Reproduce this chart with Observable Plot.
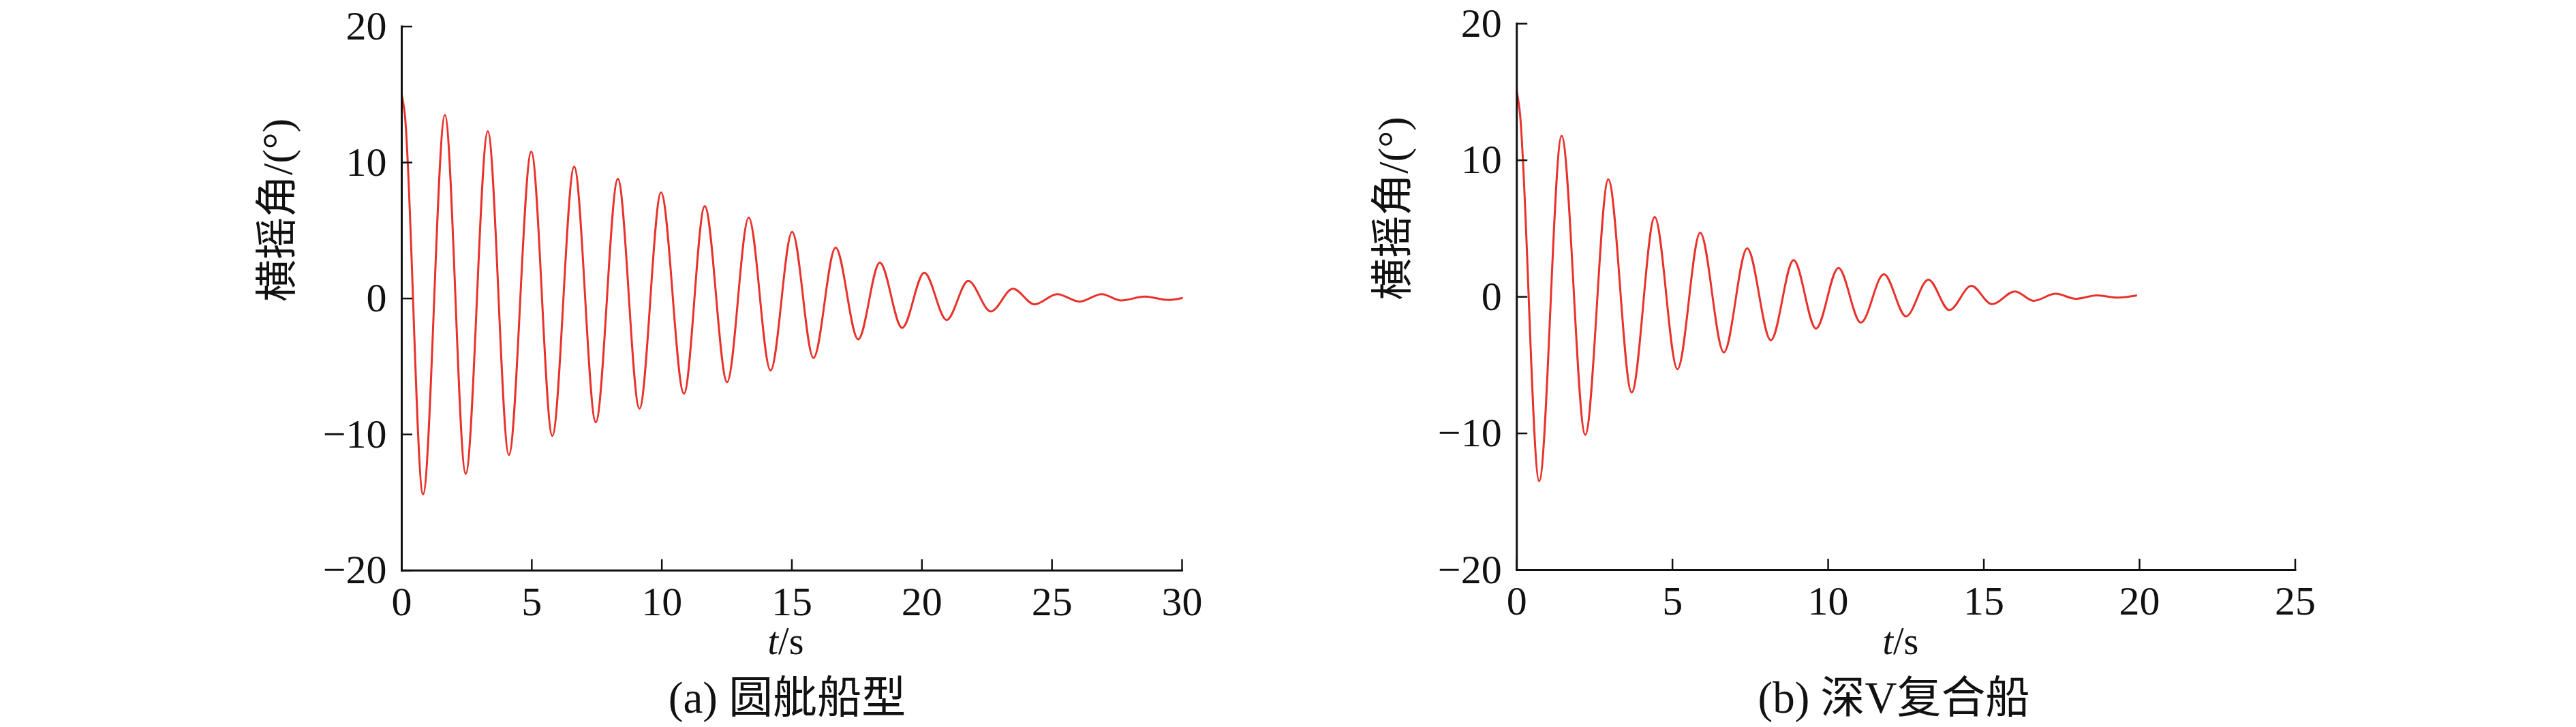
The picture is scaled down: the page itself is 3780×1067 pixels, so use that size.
<!DOCTYPE html>
<html><head><meta charset="utf-8">
<script src="https://cdn.jsdelivr.net/npm/d3@7"></script>
<script src="https://cdn.jsdelivr.net/npm/@observablehq/plot@0.6"></script>
<style>
html,body{margin:0;padding:0;background:#fff;}
#fig{position:relative;width:3780px;height:1067px;background:#fff;overflow:hidden;}
.panel{position:absolute;top:0;width:1890px;height:1067px;}
.panel svg{display:block;}
.cap{position:absolute;top:992px;white-space:nowrap;transform:translateX(-50%);font-family:"Liberation Serif","Noto Sans CJK SC",serif;font-size:65px;line-height:65px;color:#111;}
</style></head><body><div id="fig"></div>
<script>
// (a) 圆舭船型 — extrema
const timeA = [0, 0.11, 0.82, 1.66, 2.46, 3.31, 4.12, 4.98, 5.79, 6.63, 7.46, 8.31, 9.14, 9.97, 10.85, 11.65, 12.51, 13.34, 14.18, 15.01, 15.83, 16.68, 17.55, 18.38, 19.24, 20.09, 20.95, 21.78, 22.65, 23.5, 24.33, 25.2, 26.06, 26.91, 27.66, 28.57, 29.47, 30.0];
const rollA = [15.0, 13.7, -14.4, 13.5, -12.9, 12.3, -11.5, 10.8, -10.1, 9.7, -9.1, 8.8, -8.1, 7.8, -7.0, 6.8, -6.15, 5.95, -5.3, 4.9, -4.37, 3.74, -3.0, 2.64, -2.16, 1.9, -1.58, 1.29, -0.95, 0.72, -0.43, 0.32, -0.23, 0.32, -0.14, 0.14, -0.11, 0.03];
// (b) 深V复合船
const timeB = [0, 0.09, 0.72, 1.44, 2.2, 2.94, 3.69, 4.43, 5.16, 5.89, 6.65, 7.4, 8.16, 8.89, 9.61, 10.33, 11.05, 11.79, 12.5, 13.22, 13.89, 14.6, 15.26, 16.0, 16.6, 17.31, 17.95, 18.63, 19.32, 19.89];
const rollB = [15.05, 13.7, -13.5, 11.8, -10.1, 8.6, -7.0, 5.85, -5.3, 4.7, -4.07, 3.55, -3.18, 2.69, -2.32, 2.12, -1.89, 1.66, -1.43, 1.26, -0.97, 0.8, -0.54, 0.4, -0.29, 0.23, -0.14, 0.11, -0.06, 0.09];

const xTicksA = [0, 5, 10, 15, 20, 25, 30];
const xTicksB = [0, 5, 10, 15, 20, 25];
const yTicks = [-20, -10, 0, 10, 20];
const yLabel = "横摇角/(°)";
const xLabel = "t/s";
const captionA = "(a) 圆舭船型";
const captionB = "(b) 深V复合船";

const FONT = "'Liberation Serif', 'Noto Sans CJK SC', serif";
const LATIN = "'Liberation Serif', serif";
const INK = "#111";
const RED = "#e8322c";

function panel({time, roll, xDomain, xTicks, mL, mR, mT, mB, labelDx}) {
  const data = time.map((t, i) => ({t, v: roll[i]}));
  const svg = Plot.plot({
    width: 1890, height: 990,
    marginLeft: mL, marginRight: mR, marginTop: mT, marginBottom: mB,
    style: {fontFamily: LATIN, fontSize: "60px", color: INK, background: "transparent", overflow: "visible"},
    x: {domain: xDomain, ticks: xTicks},
    y: {domain: [-20, 20], ticks: yTicks},
    marks: [
      Plot.line(data, {x: "t", y: "v", curve: "monotone-x", stroke: RED, strokeWidth: 3}),
      Plot.frame({anchor: "left", stroke: INK, strokeWidth: 3, strokeLinecap: "square"}),
      Plot.frame({anchor: "bottom", stroke: INK, strokeWidth: 3, strokeLinecap: "square"}),
      Plot.axisX({ticks: xTicks, tickSize: -16, tickPadding: 39, label: null, strokeWidth: 2.5, fontSize: 60, fontFamily: LATIN}),
      Plot.axisY({ticks: yTicks, tickSize: -16, tickPadding: 38, label: null, strokeWidth: 2.5, fontSize: 60, fontFamily: LATIN}),
      Plot.text([yLabel], {text: d => d, frameAnchor: "left", rotate: -90, dx: -181, dy: 5, fontSize: 62, fontFamily: FONT, fill: INK}),
      Plot.text([xLabel], {text: d => d, frameAnchor: "bottom", dy: 123, dx: labelDx, fontSize: 56, fontFamily: LATIN, fill: INK})
    ]
  });
  // italic t in "t/s"
  svg.querySelectorAll("text").forEach(el => {
    if (el.textContent === xLabel) {
      el.textContent = "";
      const ns = "http://www.w3.org/2000/svg";
      const a = document.createElementNS(ns, "tspan");
      a.setAttribute("font-style", "italic");
      a.textContent = "t";
      const b = document.createElementNS(ns, "tspan");
      b.textContent = "/s";
      el.appendChild(a); el.appendChild(b);
    }
  });
  return svg;
}

const fig = document.getElementById("fig");

function addPanel(left, svg, caption, capX) {
  const div = document.createElement("div");
  div.className = "panel";
  div.style.left = left + "px";
  div.appendChild(svg);
  const cap = document.createElement("div");
  cap.className = "cap";
  cap.style.left = capX + "px";
  cap.textContent = caption;
  div.appendChild(cap);
  fig.appendChild(div);
}

addPanel(0, panel({time: timeA, roll: rollA, xDomain: [0, 30], xTicks: xTicksA, mL: 589, mR: 156, mT: 38.5, mB: 153.3, labelDx: -9}), captionA, 1155);
addPanel(1890, panel({time: timeB, roll: rollB, xDomain: [0, 25], xTicks: xTicksB, mL: 335.2, mR: 412.5, mT: 34.3, mB: 154, labelDx: -8}), captionB, 2779 - 1890);
</script></body></html>
